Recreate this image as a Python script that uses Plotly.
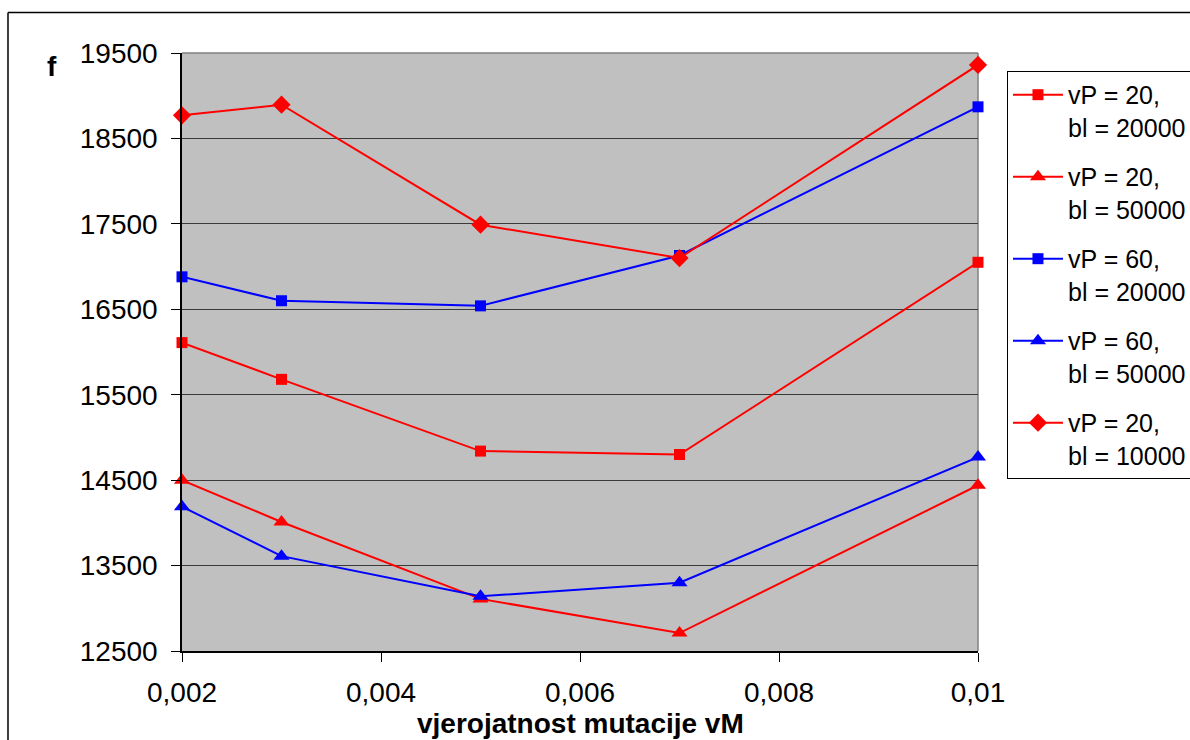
import plotly.graph_objects as go

# mutation probability values on the x axis
vm = [0.002, 0.003, 0.005, 0.007, 0.01]

# fitness f for each parameter combination
f_vp20_bl20000 = [16110, 15680, 14840, 14800, 17050]
f_vp20_bl50000 = [14500, 14010, 13110, 12710, 14440]
f_vp60_bl20000 = [16880, 16600, 16540, 17130, 18870]
f_vp60_bl50000 = [14190, 13610, 13140, 13300, 14770]
f_vp20_bl10000 = [18770, 18895, 17490, 17100, 19360]

series_names = [
    "vP = 20,<br>bl = 20000",
    "vP = 20,<br>bl = 50000",
    "vP = 60,<br>bl = 20000",
    "vP = 60,<br>bl = 50000",
    "vP = 20,<br>bl = 10000",
]
series_values = [f_vp20_bl20000, f_vp20_bl50000, f_vp60_bl20000, f_vp60_bl50000, f_vp20_bl10000]
series_colors = ["#ff0000", "#ff0000", "#0000ff", "#0000ff", "#ff0000"]
series_symbols = ["square", "triangle-up", "square", "triangle-up", "diamond"]
series_sizes = [11, 14, 11, 14, 14]

x_tickvals = [0.002, 0.004, 0.006, 0.008, 0.01]
x_ticktext = ["0,002", "0,004", "0,006", "0,008", "0,01"]
y_tickvals = [12500, 13500, 14500, 15500, 16500, 17500, 18500, 19500]
y_ticktext = [str(v) for v in y_tickvals]

FONT = "Liberation Sans, Arial, sans-serif"

fig = go.Figure()
for i, (name, vals, col, sym, sz) in enumerate(
    zip(series_names, series_values, series_colors, series_symbols, series_sizes)
):
    fig.add_trace(
        go.Scatter(
            x=vm,
            y=vals,
            name=name,
            mode="lines+markers",
            line=dict(color=col, width=2),
            marker=dict(symbol=sym, size=sz, color=col, line=dict(width=0)),
            legendgroup=f"g{i}",
            cliponaxis=False,
        )
    )

fig.update_layout(
    width=1190,
    height=740,
    margin=dict(l=182, r=212, t=53, b=89, autoexpand=False),
    paper_bgcolor="white",
    plot_bgcolor="#c0c0c0",
    font=dict(family=FONT, size=28, color="black"),
    showlegend=True,
    legend=dict(
        x=1.0364,
        y=0.970,
        xanchor="left",
        yanchor="top",
        bgcolor="white",
        bordercolor="black",
        borderwidth=1,
        font=dict(family=FONT, size=25, color="black"),
        valign="top",
        tracegroupgap=14,
        itemwidth=50,
    ),
    xaxis=dict(
        range=[0.002, 0.01],
        tickvals=x_tickvals,
        ticktext=x_ticktext,
        ticks="outside",
        ticklen=9,
        tickcolor="black",
        showgrid=False,
        showline=True,
        linecolor="black",
        linewidth=1.5,
        zeroline=False,
        tickfont=dict(size=28),
        ticklabelstandoff=7,
    ),
    yaxis=dict(
        range=[12500, 19500],
        tickvals=y_tickvals,
        ticktext=y_ticktext,
        ticks="outside",
        ticklen=9,
        tickcolor="black",
        showgrid=True,
        gridcolor="#3a3a3a",
        gridwidth=1,
        showline=True,
        linecolor="black",
        linewidth=1.5,
        zeroline=False,
        tickfont=dict(size=28),
        ticklabelstandoff=8,
    ),
    shapes=[
        # grey frame around the plot area (top and right edges)
        dict(type="line", xref="paper", yref="paper", x0=0, x1=1, y0=1, y1=1,
             line=dict(color="#808080", width=1.5), layer="below"),
        dict(type="line", xref="paper", yref="paper", x0=1, x1=1, y0=0, y1=1,
             line=dict(color="#808080", width=1.5), layer="below"),
        # outer chart frame
        dict(type="line", xref="paper", yref="paper", x0=-0.2186, x1=1.3, y0=1.0677, y1=1.0677,
             line=dict(color="black", width=1.5)),
        dict(type="line", xref="paper", yref="paper", x0=-0.2186, x1=-0.2186, y0=-0.2, y1=1.0677,
             line=dict(color="black", width=1.5)),
    ],
    annotations=[
        dict(text="<b>f</b>", xref="paper", yref="paper", x=-0.1633, y=0.978,
             xanchor="center", yanchor="middle", showarrow=False,
             font=dict(family=FONT, size=28, color="black")),
        dict(text="<b>vjerojatnost mutacije vM</b>", xref="paper", yref="paper",
             x=0.5, y=-0.121, xanchor="center", yanchor="middle", showarrow=False,
             font=dict(family=FONT, size=28, color="black")),
    ],
)

fig.write_html("out.html")
